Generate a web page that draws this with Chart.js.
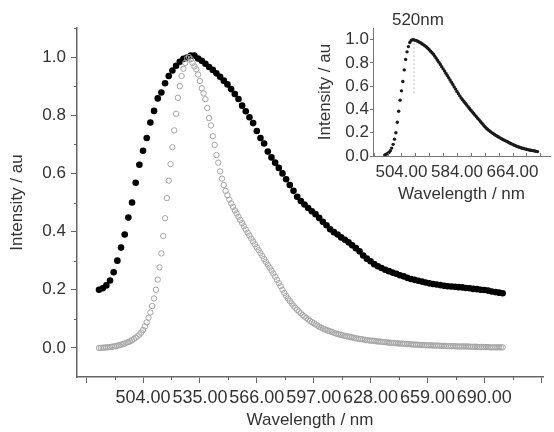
<!DOCTYPE html>
<html>
<head>
<meta charset="utf-8">
<script src="https://cdn.jsdelivr.net/npm/chart.js@4.4.1/dist/chart.umd.min.js"></script>
<style>
  body { margin: 0; background: #fff; }
  #wrap { position: relative; width: 554px; height: 432px; }
  #mainChart { position: absolute; left: 0; top: 0; }
  #insetChart { position: absolute; left: 310px; top: 0; }
</style>
</head>
<body>
<div id="wrap">
  <canvas id="mainChart" width="554" height="432"></canvas>
  <canvas id="insetChart" width="244" height="212"></canvas>
</div>
<script>
// main plot: wavelength grid (start, step) and intensities
var blackStart = 480, blackStep = 2;
var blackIntensity = [
  0.200, 0.205, 0.215, 0.232, 0.260, 0.300, 0.345, 0.390, 0.448, 0.500,
  0.568, 0.630, 0.678, 0.722, 0.775, 0.815, 0.858, 0.878, 0.910, 0.935,
  0.954, 0.970, 0.984, 0.994, 0.998, 1.005, 1.005, 0.995, 0.987, 0.977,
  0.966, 0.956, 0.944, 0.932, 0.919, 0.906, 0.890, 0.873, 0.856, 0.833,
  0.814, 0.793, 0.773, 0.746, 0.722, 0.703, 0.675, 0.655, 0.637, 0.619,
  0.600, 0.580, 0.560, 0.540, 0.520, 0.505, 0.493, 0.481, 0.470, 0.460,
  0.447, 0.434, 0.422, 0.408, 0.398, 0.390, 0.380, 0.372, 0.363, 0.353,
  0.343, 0.332, 0.318, 0.307, 0.298, 0.288, 0.281, 0.275, 0.269, 0.264,
  0.259, 0.255, 0.250, 0.246, 0.241, 0.237, 0.234, 0.231, 0.228, 0.225,
  0.222, 0.220, 0.218, 0.216, 0.214, 0.212, 0.211, 0.210, 0.209, 0.208,
  0.206, 0.205, 0.203, 0.202, 0.200, 0.199, 0.197, 0.194, 0.192, 0.190,
  0.188
];

var grayStart = 480, grayStep = 1;
var grayIntensity = [
  0.000, 0.000, 0.001, 0.001, 0.002, 0.002, 0.003, 0.004, 0.005, 0.006,
  0.008, 0.009, 0.011, 0.013, 0.015, 0.018, 0.020, 0.023, 0.027, 0.031,
  0.035, 0.040, 0.046, 0.053, 0.062, 0.074, 0.088, 0.104, 0.122, 0.144,
  0.170, 0.200, 0.235, 0.277, 0.325, 0.385, 0.446, 0.515, 0.575, 0.632,
  0.690, 0.748, 0.805, 0.860, 0.900, 0.935, 0.960, 0.980, 0.995, 1.000,
  0.993, 0.980, 0.968, 0.958, 0.940, 0.918, 0.893, 0.875, 0.855, 0.825,
  0.790, 0.765, 0.728, 0.698, 0.663, 0.637, 0.607, 0.582, 0.560, 0.540,
  0.525, 0.510, 0.497, 0.485, 0.473, 0.462, 0.451, 0.440, 0.429, 0.418,
  0.407, 0.396, 0.386, 0.376, 0.366, 0.356, 0.346, 0.336, 0.326, 0.316,
  0.306, 0.296, 0.286, 0.276, 0.266, 0.256, 0.245, 0.234, 0.223, 0.212,
  0.200, 0.189, 0.179, 0.170, 0.161, 0.153, 0.145, 0.138, 0.131, 0.125,
  0.119, 0.113, 0.108, 0.103, 0.098, 0.093, 0.089, 0.085, 0.081, 0.077,
  0.073, 0.070, 0.067, 0.064, 0.062, 0.059, 0.057, 0.055, 0.052, 0.050,
  0.048, 0.046, 0.045, 0.043, 0.041, 0.040, 0.039, 0.037, 0.036, 0.035,
  0.033, 0.032, 0.031, 0.030, 0.029, 0.028, 0.027, 0.026, 0.025, 0.025,
  0.024, 0.023, 0.022, 0.022, 0.021, 0.020, 0.020, 0.019, 0.018, 0.018,
  0.017, 0.017, 0.016, 0.016, 0.015, 0.015, 0.014, 0.014, 0.013, 0.013,
  0.012, 0.012, 0.012, 0.011, 0.011, 0.010, 0.010, 0.010, 0.009, 0.009,
  0.009, 0.009, 0.008, 0.008, 0.008, 0.008, 0.007, 0.007, 0.007, 0.007,
  0.006, 0.006, 0.006, 0.006, 0.006, 0.005, 0.005, 0.005, 0.005, 0.005,
  0.005, 0.005, 0.004, 0.004, 0.004, 0.004, 0.004, 0.003, 0.003, 0.003,
  0.003, 0.003, 0.003, 0.002, 0.002, 0.002, 0.002, 0.002, 0.002, 0.002,
  0.002
];

// inset: 520nm spectrum
var insetStart = 480, insetStep = 2;
var insetIntensity = [
  0.010, 0.015, 0.022, 0.030, 0.045, 0.068, 0.100, 0.145, 0.200, 0.290,
  0.385, 0.480, 0.560, 0.640, 0.740, 0.830, 0.895, 0.940, 0.975, 0.993,
  1.000, 0.998, 0.994, 0.990, 0.985, 0.978, 0.971, 0.963, 0.955, 0.946,
  0.937, 0.926, 0.914, 0.901, 0.888, 0.874, 0.858, 0.841, 0.823, 0.805,
  0.787, 0.768, 0.749, 0.730, 0.711, 0.692, 0.673, 0.653, 0.634, 0.614,
  0.594, 0.575, 0.555, 0.536, 0.517, 0.499, 0.483, 0.468, 0.453, 0.438,
  0.423, 0.408, 0.393, 0.379, 0.365, 0.351, 0.337, 0.323, 0.309, 0.295,
  0.281, 0.267, 0.253, 0.241, 0.230, 0.220, 0.210, 0.201, 0.193, 0.185,
  0.177, 0.170, 0.163, 0.156, 0.149, 0.142, 0.136, 0.130, 0.124, 0.118,
  0.112, 0.106, 0.100, 0.094, 0.089, 0.084, 0.079, 0.075, 0.071, 0.067,
  0.064, 0.061, 0.058, 0.055, 0.052, 0.050, 0.048, 0.046, 0.043, 0.040,
  0.038
];
var insetPeakWl = 522;
var insetPeakMark = [0.54, 1.0];
var insetPeakLabel = '520nm';

// tick values
var xMajorTicks = [473, 504, 535, 566, 597, 628, 659, 690, 721];
var xLabelledTicks = [504, 535, 566, 597, 628, 659, 690];
var xMinorTicks = [488.5, 519.5, 550.5, 581.5, 612.5, 643.5, 674.5, 705.5];
var yMajorTicks = [0, 0.2, 0.4, 0.6, 0.8, 1.0];
var yMinorTicks = [0.1, 0.3, 0.5, 0.7, 0.9, 1.1];
var insetXLabels = [504, 584, 664];
var insetXTicks = [464, 484, 504, 524, 544, 564, 584, 604, 624, 644, 664, 684, 704];
var insetYTicks = [0, 0.2, 0.4, 0.6, 0.8, 1.0];

Chart.defaults.font.family = "'Liberation Sans', Arial, sans-serif";
Chart.defaults.color = '#333';

function toPoints(start, step, values) {
  return values.map(function (v, i) { return { x: start + i * step, y: v }; });
}

// extra small ticks (minor / inward) drawn on the scales
var extraTicks = {
  id: 'extraTicks',
  afterDraw: function (chart, args, opts) {
    var ctx = chart.ctx, xs = chart.scales.x, ys = chart.scales.y;
    ctx.save();
    ctx.strokeStyle = opts.color;
    ctx.lineWidth = 1;
    ctx.beginPath();
    (opts.x || []).forEach(function (v) {
      var px = Math.round(xs.getPixelForValue(v)) + 0.5;
      ctx.moveTo(px, xs.top);
      ctx.lineTo(px, xs.top + opts.xLen);
    });
    (opts.y || []).forEach(function (v) {
      var py = Math.round(ys.getPixelForValue(v)) + 0.5;
      ctx.moveTo(ys.right, py);
      ctx.lineTo(ys.right - opts.yLen, py);
    });
    ctx.stroke();
    if (opts.label) {
      ctx.fillStyle = '#333';
      ctx.font = "17px 'Liberation Sans', Arial, sans-serif";
      ctx.textAlign = 'center';
      ctx.textBaseline = 'middle';
      ctx.fillText(opts.label, xs.getPixelForValue(opts.labelAt) + 4, chart.chartArea.top - 8);
    }
    ctx.restore();
  }
};

var ctx = document.getElementById('mainChart').getContext('2d');
var chart = new Chart(ctx, {
  type: 'scatter',
  data: {
    datasets: [{
      label: 'gray',
      data: toPoints(grayStart, grayStep, grayIntensity),
      pointRadius: 2.7,
      borderWidth: 1,
      borderColor: '#a4a4a4',
      backgroundColor: 'rgba(0,0,0,0)',
      order: 0
    }, {
      label: 'black',
      data: toPoints(blackStart, blackStep, blackIntensity),
      pointRadius: 3.3,
      borderWidth: 0,
      backgroundColor: '#000',
      order: 1
    }]
  },
  plugins: [extraTicks],
  options: {
    responsive: false,
    animation: false,
    devicePixelRatio: 1,
    events: [],
    layout: { padding: { top: 28, right: 11, left: 0, bottom: 0 } },
    plugins: {
      legend: { display: false },
      tooltip: { enabled: false },
      extraTicks: { x: xMinorTicks, y: yMinorTicks, xLen: 3, yLen: 3, color: '#666' }
    },
    scales: {
      x: {
        type: 'linear', min: 468, max: 722,
        afterBuildTicks: function (s) { s.ticks = xMajorTicks.map(function (v) { return { value: v }; }); },
        afterFit: function (s) { s.height = 55; },
        ticks: {
          autoSkip: false, maxRotation: 0, padding: 4, font: { size: 18 },
          callback: function (v) { return xLabelledTicks.indexOf(v) >= 0 ? v.toFixed(2) : ''; }
        },
        grid: { drawOnChartArea: false, tickLength: 6, tickColor: '#666', tickWidth: 1 },
        border: { color: '#666', width: 1.5 },
        title: { display: true, text: 'Wavelength / nm', font: { size: 17 }, padding: { top: 0, bottom: 1 } }
      },
      y: {
        min: -0.1, max: 1.1,
        afterBuildTicks: function (s) { s.ticks = yMajorTicks.map(function (v) { return { value: v }; }); },
        afterFit: function (s) { s.width = 77; },
        ticks: { padding: 5, font: { size: 17 }, callback: function (v) { return v.toFixed(1); } },
        grid: { drawOnChartArea: false, tickLength: 6, tickColor: '#666', tickWidth: 1 },
        border: { color: '#666', width: 1.5 },
        title: { display: true, text: 'Intensity / au', font: { size: 17 }, padding: { top: 7, bottom: 0 } }
      }
    }
  }
});

var ctx = document.getElementById('insetChart').getContext('2d');
var chart = new Chart(ctx, {
  type: 'scatter',
  data: {
    datasets: [{
      label: 'mark',
      data: [{ x: insetPeakWl, y: insetPeakMark[0] }, { x: insetPeakWl, y: insetPeakMark[1] }],
      showLine: true,
      borderColor: '#d4d4d4',
      borderWidth: 1.5,
      borderDash: [2, 2],
      pointRadius: 0,
      order: 1
    }, {
      label: 'inset',
      data: toPoints(insetStart, insetStep, insetIntensity),
      pointRadius: 1.7,
      borderWidth: 0,
      backgroundColor: '#1a1a1a',
      order: 0
    }]
  },
  plugins: [extraTicks],
  options: {
    responsive: false,
    animation: false,
    devicePixelRatio: 1,
    events: [],
    layout: { padding: { top: 28, right: 2, left: 0, bottom: 0 } },
    plugins: {
      legend: { display: false },
      tooltip: { enabled: false },
      extraTicks: { x: insetXTicks, y: [], xLen: -3, yLen: 0, color: '#777', label: insetPeakLabel, labelAt: insetPeakWl }
    },
    scales: {
      x: {
        type: 'linear', min: 463, max: 718,
        afterBuildTicks: function (s) { s.ticks = insetXLabels.map(function (v) { return { value: v }; }); },
        afterFit: function (s) { s.height = 56; },
        ticks: { autoSkip: false, maxRotation: 0, padding: 6, font: { size: 17 }, callback: function (v) { return v.toFixed(2); } },
        grid: { drawOnChartArea: false, drawTicks: false },
        border: { color: '#777', width: 1 },
        title: { display: true, text: 'Wavelength / nm', font: { size: 17 }, padding: { top: 0, bottom: 7 } }
      },
      y: {
        min: 0, max: 1.1,
        afterBuildTicks: function (s) { s.ticks = insetYTicks.map(function (v) { return { value: v }; }); },
        afterFit: function (s) { s.width = 63; },
        ticks: { padding: 1, font: { size: 17 }, callback: function (v) { return v.toFixed(1); } },
        grid: { drawOnChartArea: false, tickLength: 3, tickColor: '#777' },
        border: { color: '#777', width: 1 },
        title: { display: true, text: 'Intensity / au', font: { size: 17 }, padding: { top: 5, bottom: 0 } }
      }
    }
  }
});
</script>
</body>
</html>
